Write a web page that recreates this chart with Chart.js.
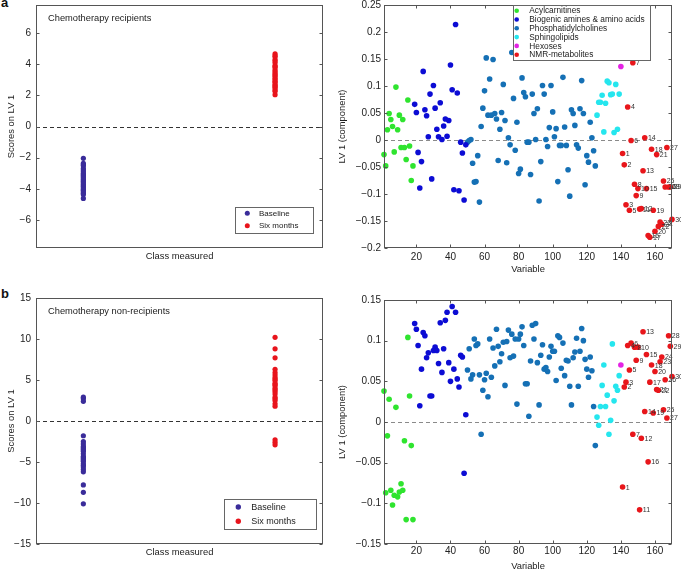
<!DOCTYPE html>
<html>
<head>
<meta charset="utf-8">
<script src="https://cdn.jsdelivr.net/npm/chart.js@4.4.0/dist/chart.umd.min.js"></script>
<style>
  body { margin: 0; width: 681px; height: 570px; overflow: hidden; background: #fff; position: relative; font-family: 'Liberation Sans', Arial, sans-serif; }
  canvas { position: absolute; }
  .tag { position: absolute; font-weight: bold; font-size: 13px; line-height: 13px; color: #111; }
</style>
</head>
<body>
<div class="tag" style="left:1px;top:-4px">a</div>
<div class="tag" style="left:1px;top:287px">b</div>
<canvas id="aLeft" width="330" height="285" style="left:0;top:0"></canvas>
<canvas id="aRight" width="351" height="285" style="left:330px;top:0"></canvas>
<canvas id="bLeft" width="330" height="285" style="left:0;top:285px"></canvas>
<canvas id="bRight" width="351" height="295" style="left:330px;top:285px"></canvas>
<script>
const FONT = "'Liberation Sans', Arial, sans-serif";
const INK = '#222';
const BOX = '#555';

// score plots (left): class positions and LV1 scores
const classNames = ['Baseline', 'Six months'];
const classPos = [1, 2];
const classColors = ['#3a2c9a', '#e8141c'];
const baselineA = [-2.04, -2.37, -2.45, -2.52, -2.69, -2.8, -2.9, -3.0, -3.08, -3.15, -3.23, -3.3, -3.4, -3.48,
  -3.55, -3.62, -3.72, -3.8, -3.87, -3.95, -4.04, -4.1, -4.19, -4.28, -4.37, -4.62];
const sixMonthsA = [4.67, 4.55, 4.47, 4.3, 4.2, 4.09, 3.91, 3.85, 3.76, 3.61, 3.5, 3.4, 3.3, 3.23, 3.1, 3.01,
  2.9, 2.84, 2.7, 2.62, 2.55, 2.47, 2.35, 2.26, 2.04];
const baselineB = [2.9, 2.7, 2.4, -1.8, -2.5, -2.8, -3.1, -3.25, -3.4, -3.55, -3.7, -4.0, -4.3, -4.45, -4.6,
  -4.75, -4.9, -5.2, -5.4, -5.6, -5.9, -6.2, -7.8, -8.7, -10.1];
const sixMonthsB = [10.2, 8.8, 7.7, 6.3, 5.9, 5.6, 5.3, 5.1, 4.9, 4.6, 4.45, 4.3, 4.0, 3.8, 3.6, 3.3, 2.9, 2.7,
  2.5, 2.1, 1.8, -2.3, -2.6, -2.9];

// loadings (right): metabolite groups, first variable number of each group
const groupNames = ['Acylcarnitines', 'Biogenic amines & amino acids', 'Phosphatidylcholines', 'Sphingolipids', 'Hexoses', 'NMR-metabolites'];
const groupColors = ['#2fe42f', '#0c0cd4', '#1570b5', '#25e6ee', '#e423e4', '#e8161b'];
const groupStart = [1, 19, 50, 126, 140, 141];

const acylA = [-0.027, -0.048, 0.019, 0.049, 0.038, 0.025, -0.022, 0.098, 0.019, 0.046, -0.014, 0.038, -0.014,
  -0.036, 0.074, -0.011, -0.075, -0.048];
const aminoA = [0.066, 0.051, -0.023, -0.089, -0.040, 0.127, 0.056, 0.045, 0.006, 0.085, -0.072, 0.101, 0.059,
  0.020, 0.006, 0.069, 0.001, 0.026, 0.039, 0.007, 0.036, 0.139, 0.093, -0.092, 0.214, 0.087, -0.094, -0.004,
  -0.024, -0.111, -0.009];
const pcA = [-0.004, -0.001, 0.001, -0.043, -0.078, -0.077, -0.029, -0.115, 0.025, 0.059, 0.091, 0.152, 0.046,
  0.113, 0.046, 0.149, 0.049, 0.039, -0.038, 0.020, 0.051, 0.103, 0.036, -0.042, 0.004, -0.009, 0.162, 0.077,
  -0.019, 0.033, -0.062, -0.054, 0.115, 0.088, 0.080, -0.004, -0.004, -0.064, 0.085, 0.049, 0.001, 0.058,
  -0.113, -0.040, 0.101, 0.085, 0.001, -0.012, 0.023, 0.101, 0.052, 0.006, 0.021, -0.077, -0.010, -0.010,
  0.116, 0.024, -0.010, -0.055, -0.104, 0.056, 0.049, 0.027, -0.009, -0.015, 0.058, 0.110, 0.049, -0.083,
  -0.029, -0.041, 0.033, 0.004, -0.020, -0.048];
const sphA = [0.046, 0.070, 0.070, 0.083, 0.015, 0.068, 0.109, 0.106, 0.084, 0.085, 0.014, 0.103, 0.020, 0.085];
const hexA = [0.136];
const nmrA = [-0.025, -0.046, -0.120, 0.061, -0.130, -0.001, 0.143, -0.082, -0.103, -0.090, -0.128, -0.127,
  -0.057, 0.004, -0.090, -0.177, -0.180, -0.017, -0.130, -0.169, -0.027, -0.160, -0.152, -0.156, -0.076,
  -0.087, -0.014, -0.087, -0.087, -0.147];

const acylB = [0.038, -0.087, -0.017, 0.028, -0.084, -0.102, -0.090, 0.018, -0.092, -0.086, -0.076, -0.084,
  -0.023, -0.120, 0.104, 0.032, -0.029, -0.120];
const aminoB = [0.121, 0.114, 0.094, 0.020, 0.065, 0.110, 0.106, 0.079, 0.085, 0.032, 0.032, 0.088, 0.092,
  0.088, 0.072, 0.122, 0.061, 0.090, 0.125, 0.135, 0.073, 0.050, 0.142, 0.065, 0.135, 0.053, 0.043, 0.082,
  0.080, -0.063, 0.009];
const pcB = [0.064, 0.090, 0.053, 0.058, 0.102, 0.094, 0.096, 0.058, -0.015, 0.039, 0.052, 0.060, 0.031, 0.102,
  0.055, 0.091, 0.069, 0.114, 0.093, 0.074, 0.084, 0.098, 0.045, 0.099, 0.113, 0.079, 0.108, 0.081, 0.102,
  0.022, 0.102, 0.108, 0.117, 0.094, 0.047, 0.047, 0.007, 0.075, 0.119, 0.102, 0.121, 0.073, 0.021, 0.082,
  0.095, 0.065, 0.067, 0.062, 0.080, 0.093, 0.087, 0.087, 0.051, 0.106, 0.104, 0.066, 0.097, 0.057, 0.076,
  0.075, 0.044, 0.021, 0.079, 0.086, 0.103, 0.044, 0.087, 0.115, 0.100, 0.077, 0.065, 0.055, 0.080, 0.063,
  0.019, -0.029];
const sphB = [0.006, -0.004, 0.019, 0.045, 0.070, 0.019, 0.033, -0.015, 0.002, 0.096, 0.026, 0.044, 0.039, 0.057];
const hexB = [0.070];
const nmrB = [-0.080, 0.043, 0.049, 0.094, 0.064, 0.097, -0.015, 0.092, 0.076, 0.092, -0.108, -0.020, 0.111,
  0.013, 0.083, -0.049, 0.049, 0.070, 0.011, 0.062, 0.040, 0.039, 0.074, 0.080, 0.015, 0.052, 0.005, 0.106,
  0.093, 0.056];

const varTicks = [20, 40, 60, 80, 100, 120, 140, 160];
const scoreTicksA = [-6, -4, -2, 0, 2, 4, 6];
const scoreTicksB = [-15, -10, -5, 0, 5, 10, 15];
const loadTicksA = [-0.2, -0.15, -0.1, -0.05, 0, 0.05, 0.1, 0.15, 0.2, 0.25];
const loadTicksB = [-0.15, -0.1, -0.05, 0, 0.05, 0.1, 0.15];

const fmt = v => (v < 0 ? '\u2212' : '') + String(Math.abs(Math.round(v * 1000) / 1000));

// box, inward ticks, dashed zero line, caption, legend and NMR labels
const frame = {
    id: 'frame',
    beforeDatasetsDraw(chart, args, o) {
        const {ctx, chartArea: a} = chart;
        const y0 = Math.round(chart.scales.y.getPixelForValue(0)) + 0.5;
        ctx.save();
        ctx.strokeStyle = o.zero;
        ctx.lineWidth = 1;
        ctx.setLineDash([4, 3]);
        ctx.beginPath();
        ctx.moveTo(a.left, y0);
        ctx.lineTo(a.right, y0);
        ctx.stroke();
        ctx.restore();
    },
    afterDatasetsDraw(chart, args, o) {
        const {ctx, chartArea: a, scales: {x, y}} = chart;
        ctx.save();
        chart.data.datasets.forEach((ds, i) => {
            if (!ds.tags) return;
            ctx.font = '7px ' + FONT;
            ctx.fillStyle = '#333';
            ctx.textBaseline = 'middle';
            chart.getDatasetMeta(i).data.forEach((pt, j) => ctx.fillText(ds.tags[j], pt.x + 3.2, pt.y + 0.5));
        });

        ctx.strokeStyle = BOX;
        ctx.lineWidth = 1;
        const L = Math.round(a.left) + 0.5, R = Math.round(a.right) - 0.5;
        const T = Math.round(a.top) + 0.5, B = Math.round(a.bottom) - 0.5;
        ctx.strokeRect(L, T, R - L, B - T);
        ctx.beginPath();
        y.ticks.forEach(t => {
            const p = Math.round(y.getPixelForValue(t.value)) + 0.5;
            ctx.moveTo(L, p); ctx.lineTo(L + 3, p);
            ctx.moveTo(R, p); ctx.lineTo(R - 3, p);
        });
        if (o.xTicks) {
            x.ticks.forEach(t => {
                const p = Math.round(x.getPixelForValue(t.value)) + 0.5;
                ctx.moveTo(p, T); ctx.lineTo(p, T + 3);
                ctx.moveTo(p, B); ctx.lineTo(p, B - 3);
            });
        }
        ctx.stroke();

        if (o.caption) {
            ctx.font = '9.3px ' + FONT;
            ctx.fillStyle = INK;
            ctx.textBaseline = 'middle';
            ctx.fillText(o.caption.text, o.caption.x, o.caption.y);
        }

        const lg = o.legend;
        if (lg) {
            ctx.fillStyle = '#fff';
            ctx.fillRect(lg.x, lg.y, lg.w, lg.h);
            ctx.strokeStyle = '#666';
            ctx.strokeRect(Math.round(lg.x) + 0.5, Math.round(lg.y) + 0.5, Math.round(lg.w), Math.round(lg.h));
            ctx.font = lg.font + 'px ' + FONT;
            ctx.textBaseline = 'middle';
            chart.data.datasets.forEach((ds, i) => {
                const cy = lg.y + lg.first + i * lg.step;
                ctx.fillStyle = ds.backgroundColor;
                ctx.beginPath();
                ctx.arc(lg.x + lg.mark, cy, lg.r, 0, Math.PI * 2);
                ctx.fill();
                ctx.fillStyle = INK;
                ctx.fillText(ds.label, lg.x + lg.text, cy + 0.5);
            });
        }
        ctx.restore();
    }
};

const dot = (label, color, data, r) => ({
    label, data, backgroundColor: color, borderWidth: 0,
    pointRadius: r, pointHoverRadius: r, clip: false
});

const classSet = (k, values) => dot(classNames[k], classColors[k], values.map(v => ({x: classPos[k], y: v})), 2.6);

const groupSets = groups => groups.map((values, g) => {
    const ds = dot(groupNames[g], groupColors[g], values.map((v, i) => ({x: groupStart[g] + i, y: v})), 2.8);
    if (g === 5) ds.tags = values.map((v, i) => String(i + 1));
    return ds;
});

function yAxis(min, max, ticks, width, title, titlePad, labelPad) {
    return {
        min, max,
        afterBuildTicks: s => { s.ticks = ticks.map(v => ({value: v})); },
        afterFit: s => { s.width = width; s.paddingTop = 0; s.paddingBottom = 0; },
        grid: {display: false, drawTicks: false},
        border: {display: false},
        ticks: {padding: labelPad, color: INK, font: {size: 10, family: FONT}, callback: v => fmt(v)},
        title: {display: true, text: title, color: INK, font: {size: 9.4, family: FONT}, padding: {top: titlePad, bottom: 0}}
    };
}

function xAxis(min, max, ticks, height, title, titlePad, labelPad) {
    return {
        min, max,
        afterBuildTicks: s => { s.ticks = ticks.map(v => ({value: v})); },
        afterFit: s => { s.height = height; s.paddingLeft = 0; s.paddingRight = 0; },
        grid: {display: false, drawTicks: false},
        border: {display: false},
        ticks: {display: ticks.length > 0, padding: labelPad, color: INK, font: {size: 10, family: FONT}, callback: v => fmt(v)},
        title: {display: true, text: title, color: INK, font: {size: 9.4, family: FONT}, padding: {top: 0, bottom: titlePad}}
    };
}

function makeChart(id, datasets, pad, x, y, frameOpts) {
    return new Chart(document.getElementById(id), {
        type: 'scatter',
        data: {datasets},
        options: {
            responsive: false,
            animation: false,
            devicePixelRatio: 1,
            layout: {padding: pad},
            plugins: {legend: {display: false}, tooltip: {enabled: false}, frame: frameOpts},
            scales: {x, y}
        },
        plugins: [frame]
    });
}

makeChart('aLeft', [classSet(0, baselineA), classSet(1, sixMonthsA)],
    {top: 5, right: 7, left: 0, bottom: 0},
    xAxis(0.753, 2.25, [], 37, 'Class measured', 22.7, 0),
    yAxis(-7.8, 7.8, scoreTicksA, 36, 'Scores on LV 1', 5.4, 5),
    {zero: '#333', xTicks: false,
     caption: {text: 'Chemotherapy recipients', x: 48, y: 18},
     legend: {x: 235, y: 207, w: 78, h: 26, mark: 12.3, text: 24, first: 6.3, step: 12.4, r: 2.5, font: 8}});

makeChart('aRight', groupSets([acylA, aminoA, pcA, sphA, hexA, nmrA]),
    {top: 5, right: 9, left: 0, bottom: 0},
    xAxis(1, 170, varTicks, 37, 'Variable', 10.4, 3),
    yAxis(-0.2, 0.25, loadTicksA, 54, 'LV 1 (component)', 6.4, 3),
    {zero: '#8a8a8a', xTicks: true,
     legend: {x: 183.3, y: 5, w: 136.7, h: 55, mark: 3.4, text: 16, first: 5.7, step: 8.8, r: 2.3, font: 8.3}});

makeChart('bLeft', [classSet(0, baselineB), classSet(1, sixMonthsB)],
    {top: 13, right: 7, left: 0, bottom: 0},
    xAxis(0.753, 2.25, [], 26, 'Class measured', 11.7, 0),
    yAxis(-15, 15, scoreTicksB, 36, 'Scores on LV 1', 5.4, 5),
    {zero: '#333', xTicks: false,
     caption: {text: 'Chemotherapy non-recipients', x: 48, y: 26.7},
     legend: {x: 224.3, y: 214.3, w: 91.7, h: 30, mark: 14, text: 27, first: 7.7, step: 14.3, r: 2.7, font: 9}});

makeChart('bRight', groupSets([acylB, aminoB, pcB, sphB, hexB, nmrB]),
    {top: 15, right: 9, left: 0, bottom: 0},
    xAxis(1, 170, varTicks, 36, 'Variable', 7.7, 1.5),
    yAxis(-0.15, 0.15, loadTicksB, 54, 'LV 1 (component)', 6.4, 3),
    {zero: '#8a8a8a', xTicks: true});
</script>
</body>
</html>
